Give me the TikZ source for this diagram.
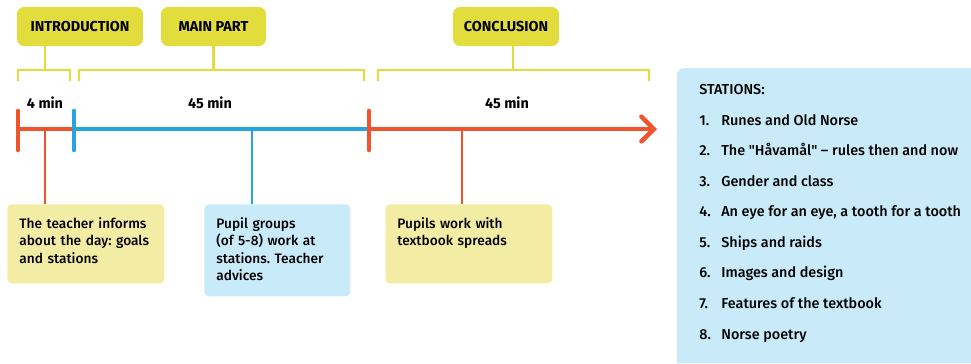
\documentclass[tikz,border=0pt]{standalone}
\usepackage{fontspec}
\setmainfont{Fira Sans}[UprightFont={* Medium}, BoldFont={* Bold}]
\usetikzlibrary{arrows.meta, positioning}
\definecolor{labelyellow}{RGB}{226,221,60}
\definecolor{noteyellow}{RGB}{243,236,164}
\definecolor{noteblue}{RGB}{200,234,249}
\definecolor{tlred}{RGB}{240,84,44}
\definecolor{tlblue}{RGB}{38,164,222}
\tikzset{
    phaselbl/.style={rectangle, rounded corners=4pt, fill=labelyellow,
                     font=\fontsize{8.2}{9}\selectfont\bfseries,
                     minimum height=0.78cm, inner sep=0pt},
    bracket/.style={draw=labelyellow, line width=1.4pt},
    minlbl/.style={font=\fontsize{8.2}{9}\selectfont\bfseries, inner sep=0pt},
    tline/.style={line width=2.6pt},
    tick/.style={line width=2.6pt, line cap=round},
    drop/.style={line width=1.1pt},
    notebox/.style={rectangle, rounded corners=2.5pt, anchor=north west,
                    align=left, font=\fontsize{7.8}{9.9}\selectfont\frenchspacing,
                    inner xsep=0.24cm, inner ysep=0.2cm, text height=0.28cm},
}

\begin{document}
\begin{tikzpicture}[x=0.02cm, y=-0.02cm]
    \useasboundingbox (0,0) rectangle (971,363);

    % phase headers and their brackets
    \node[phaselbl, minimum width=2.52cm] (intro) at (80,26.5) {INTRODUCTION};
    \node[phaselbl, minimum width=2.10cm] (main) at (213.5,26.5) {MAIN PART};
    \node[phaselbl, minimum width=2.12cm] (concl) at (506,26.5) {CONCLUSION};

    \coordinate (introbr) at (45,70);
    \coordinate (mainbr) at (213.5,70);
    \coordinate (conclbr) at (513,70);
    \draw[bracket] (introbr |- intro.south) -- (introbr);
    \draw[bracket] (main.south) -- (mainbr);
    \draw[bracket] (conclbr |- concl.south) -- (conclbr);
    \draw[bracket] (18,81) -- (18,70) -- (70,70) -- (70,81);
    \draw[bracket] (79,81) -- (79,70) -- (364,70) -- (364,81);
    \draw[bracket] (378,81) -- (378,70) -- (649,70) -- (649,81);

    \node[minlbl] (min4) at (45,103) {4 min};
    \node[minlbl] (min45a) at (210,103) {45 min};
    \node[minlbl] (min45b) at (507,103) {45 min};

    % time line
    \coordinate (t0) at (18,129);
    \coordinate (t1) at (74,129);
    \coordinate (t2) at (369,129);
    \coordinate (tend) at (657,129);
    \draw[tline, tlred] (t0) -- (t1);
    \draw[tline, tlblue] (t1) -- (t2);
    \draw[tline, tlred, -{Straight Barb[length=7pt, width=14pt, line cap=round]}] (t2) -- (tend);
    \draw[tick, tlred] (18,111) -- (18,150);
    \draw[tick, tlblue] (74,111) -- (74,150);
    \draw[tick, tlred] (369,111) -- (369,150);

    % notes under the line
    \node[notebox, fill=noteyellow, text width=2.66cm, text depth=0.9cm] (teachnote) at (7,204)
        {The teacher informs\\about the day: goals\\and stations};
    \node[notebox, fill=noteblue, text width=2.44cm, text depth=1.16cm] (groupnote) at (204,204)
        {Pupil groups\\(of 5-8) work at\\stations. Teacher\\advices};
    \node[notebox, fill=noteyellow, text width=2.86cm, text depth=0.9cm] (booknote) at (385,204)
        {Pupils work with\\textbook spreads};

    \draw[drop, tlred] (45,0 |- t0) -- (45,0 |- teachnote.north);
    \draw[drop, tlblue] (252,0 |- t1) -- (252,0 |- groupnote.north);
    \draw[drop, tlred] (462,0 |- t2) -- (462,0 |- booknote.north);

    % station list panel
    \fill[noteblue] (971,363) -- (677,363) [rounded corners=4pt] -- (677,68)
        [sharp corners] -- (971,68) -- cycle;
    \node[anchor=north west, align=left, inner sep=0pt,
          font=\fontsize{8.2}{17.4}\selectfont] (stations) at (699,84) {%
        STATIONS:\\
        \makebox[0.44cm][l]{1.}Runes and Old Norse\\
        \makebox[0.44cm][l]{2.}The \textquotedbl Håvamål\textquotedbl{} -- rules then and now\\
        \makebox[0.44cm][l]{3.}Gender and class\\
        \makebox[0.44cm][l]{4.}An eye for an eye, a tooth for a tooth\\
        \makebox[0.44cm][l]{5.}Ships and raids\\
        \makebox[0.44cm][l]{6.}Images and design\\
        \makebox[0.44cm][l]{7.}Features of the textbook\\
        \makebox[0.44cm][l]{8.}Norse poetry};
\end{tikzpicture}
\end{document}
